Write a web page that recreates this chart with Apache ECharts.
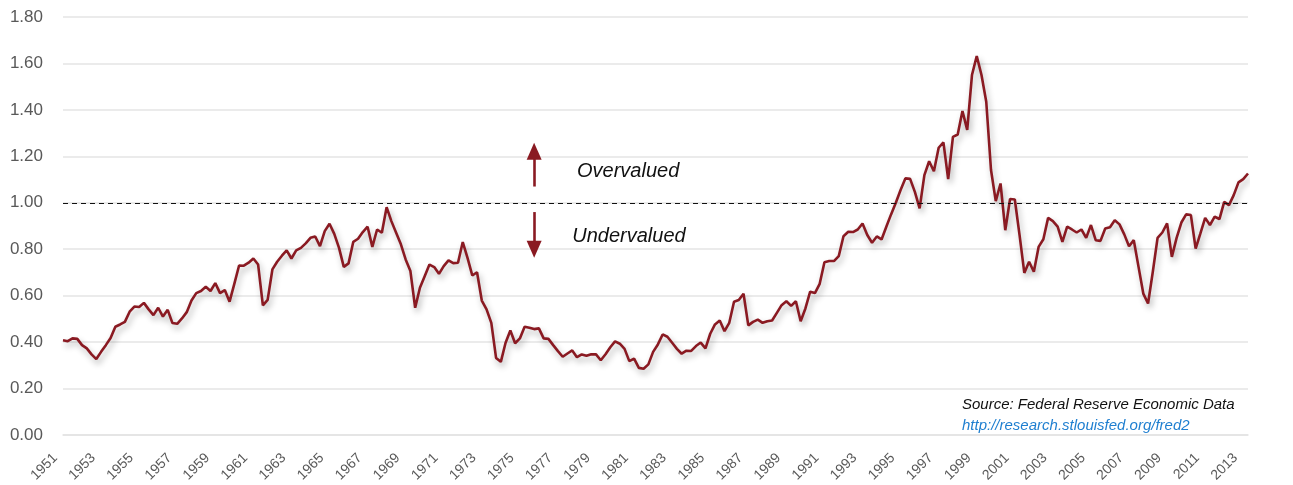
<!DOCTYPE html>
<html>
<head>
<meta charset="utf-8">
<script src="https://cdn.jsdelivr.net/npm/echarts@6/dist/echarts.min.js"></script>
<style>
    html, body { margin: 0; padding: 0; background: #fff; }
    #chart { width: 1293px; height: 485px; }
</style>
</head>
<body>
<div id="chart"></div>
<script>
// quarterly ratio, 1951Q1 onwards
const ratio1951to1973 = [
    0.408, 0.404, 0.416, 0.414, 0.387, 0.373, 0.347, 0.327, 0.358, 0.387,
    0.418, 0.466, 0.476, 0.487, 0.531, 0.553, 0.551, 0.569, 0.541, 0.516,
    0.548, 0.510, 0.539, 0.482, 0.479, 0.502, 0.529, 0.579, 0.611, 0.620,
    0.638, 0.620, 0.654, 0.611, 0.624, 0.574, 0.651, 0.730, 0.729, 0.742,
    0.760, 0.734, 0.558, 0.582, 0.713, 0.746, 0.772, 0.795, 0.760, 0.795,
    0.806, 0.825, 0.849, 0.855, 0.813, 0.878, 0.910, 0.866, 0.806, 0.724,
    0.739, 0.832, 0.845, 0.874, 0.897, 0.810, 0.885, 0.871, 0.981, 0.921,
    0.871, 0.821, 0.756, 0.706, 0.548, 0.634, 0.684, 0.734, 0.723, 0.694,
    0.727, 0.752, 0.740, 0.742, 0.831, 0.763, 0.687, 0.701, 0.579, 0.541,
];
const ratio1973to1994 = [
    0.483, 0.332, 0.315, 0.397, 0.450, 0.395, 0.416, 0.466, 0.462, 0.456,
    0.459, 0.416, 0.414, 0.387, 0.361, 0.337, 0.351, 0.364, 0.335, 0.347,
    0.341, 0.348, 0.347, 0.322, 0.348, 0.378, 0.403, 0.393, 0.371, 0.318,
    0.329, 0.289, 0.285, 0.304, 0.358, 0.390, 0.433, 0.423, 0.397, 0.371,
    0.350, 0.363, 0.362, 0.383, 0.398, 0.373, 0.436, 0.476, 0.493, 0.447,
    0.483, 0.574, 0.581, 0.608, 0.472, 0.487, 0.497, 0.483, 0.490, 0.493,
    0.526, 0.559, 0.576, 0.556, 0.576, 0.490, 0.545, 0.617, 0.611, 0.651,
    0.744, 0.749, 0.749, 0.770, 0.856, 0.875, 0.874, 0.885, 0.911, 0.861,
    0.828, 0.855, 0.842, 0.897, 0.950, 1.000,
];
const ratio1995to2013 = [
    1.055, 1.105, 1.103, 1.047, 0.976, 1.119, 1.179, 1.136, 1.237, 1.260,
    1.102, 1.284, 1.294, 1.395, 1.314, 1.550, 1.632, 1.550, 1.435, 1.141,
    1.007, 1.083, 0.882, 1.016, 1.014, 0.861, 0.698, 0.746, 0.703, 0.810,
    0.843, 0.935, 0.921, 0.897, 0.832, 0.897, 0.885, 0.872, 0.885, 0.849,
    0.904, 0.839, 0.836, 0.889, 0.895, 0.925, 0.907, 0.864, 0.813, 0.839,
    0.724, 0.609, 0.566, 0.703, 0.849, 0.872, 0.911, 0.767, 0.849, 0.915,
    0.950, 0.947, 0.803, 0.868, 0.935, 0.904, 0.940, 0.930, 1.004, 0.990,
    1.033, 1.088, 1.102, 1.126,
];

const START_YEAR = 1951;
const FAIR_VALUE = 1.0;
const Y_TICKS    = [0, 0.2, 0.4, 0.6, 0.8, 1.0, 1.2, 1.4, 1.6, 1.8];

// arrow + label annotations, in data coordinates
const ARROW_QUARTER = '1975Q4';
const ARROW_UP      = [1.07, 1.20];
const ARROW_DOWN    = [0.96, 0.82];
const ARROW_HEADS   = [1.222, 0.800];
const NOTE_OVER     = ['1978Q1', 1.137, 'Overvalued'];
const NOTE_UNDER    = ['1977Q4', 0.857, 'Undervalued'];

const values   = [...ratio1951to1973, ...ratio1973to1994, ...ratio1995to2013];
const quarters = values.map((_, i) => `${START_YEAR + Math.floor(i / 4)}Q${(i % 4) + 1}`);

const RED   = '#8a1a22';
const GRID  = '#e4e4e4';
const TICKS = '#595959';
const SANS  = '"Liberation Sans", Arial, sans-serif';

const chart = echarts.init(document.getElementById('chart'), null, { renderer: 'canvas' });

chart.setOption({
    animation: false,
    backgroundColor: '#fff',
    // v6 shrinks the grid to fit rotated labels by default; keep the exact box
    grid: { left: 63, right: 45, top: 17, bottom: 50, outerBoundsMode: 'none' },
    xAxis: {
        type: 'category',
        data: quarters,
        boundaryGap: false,
        axisLine:  { show: true, lineStyle: { color: GRID, width: 1.5 } },
        axisTick:  { show: false },
        splitLine: { show: false },
        axisLabel: {
            interval: 7,
            rotate: 45,
            margin: 13,
            padding: [0, 11, 0, 0],
            color: TICKS,
            fontFamily: SANS,
            fontSize: 14,
            formatter: (v) => v.slice(0, 4),
        },
    },
    yAxis: {
        type: 'value',
        min: Y_TICKS[0],
        max: Y_TICKS[Y_TICKS.length - 1],
        interval: Y_TICKS[1] - Y_TICKS[0],
        axisLine: { show: false },
        axisTick: { show: false },
        splitLine: { lineStyle: { color: GRID, width: 1.5 } },
        axisLabel: {
            margin: 20,
            color: TICKS,
            fontFamily: SANS,
            fontSize: 17,
            formatter: (v) => v.toFixed(2),
        },
    },
    series: [
        {
            type: 'line',
            data: values,
            showSymbol: false,
            smooth: false,
            z: 3,
            lineStyle: {
                color: RED,
                width: 2.6,
                shadowColor: 'rgba(0,0,0,0.3)',
                shadowBlur: 6,
                shadowOffsetX: 2,
                shadowOffsetY: 4,
            },
            markLine: {
                silent: true,
                symbol: 'none',
                label: { show: false },
                data: [
                    [{ coord: [quarters[0], FAIR_VALUE], lineStyle: { color: '#111', width: 1.2, type: [5, 4] } },
                     { coord: [quarters[quarters.length - 1], FAIR_VALUE] }],
                    [{ coord: [ARROW_QUARTER, ARROW_UP[0]], lineStyle: { color: RED, width: 2.6, type: 'solid' } },
                     { coord: [ARROW_QUARTER, ARROW_UP[1]] }],
                    [{ coord: [ARROW_QUARTER, ARROW_DOWN[0]], lineStyle: { color: RED, width: 2.6, type: 'solid' } },
                     { coord: [ARROW_QUARTER, ARROW_DOWN[1]] }],
                ],
            },
            markPoint: {
                silent: true,
                data: [
                    { coord: [ARROW_QUARTER, ARROW_HEADS[0]], symbol: 'triangle', symbolSize: [15, 17],
                      itemStyle: { color: RED }, label: { show: false } },
                    { coord: [ARROW_QUARTER, ARROW_HEADS[1]], symbol: 'triangle', symbolSize: [15, 17], symbolRotate: 180,
                      itemStyle: { color: RED }, label: { show: false } },
                    ...[NOTE_OVER, NOTE_UNDER].map(([q, v, text]) => ({
                        coord: [q, v],
                        symbol: 'circle',
                        symbolSize: 0,
                        label: {
                            show: true,
                            position: 'right',
                            distance: 0,
                            formatter: text,
                            color: '#111',
                            fontFamily: SANS,
                            fontStyle: 'italic',
                            fontSize: 20,
                        },
                    })),
                ],
            },
        },
    ],
    graphic: [
        {
            type: 'text',
            left: 962,
            top: 397,
            style: {
                text: 'Source: Federal Reserve Economic Data',
                fill: '#111',
                font: 'italic 15px "Liberation Sans", Arial, sans-serif',
            },
        },
        {
            type: 'text',
            left: 962,
            top: 418,
            style: {
                text: 'http://research.stlouisfed.org/fred2',
                fill: '#1f7fd0',
                font: 'italic 15px "Liberation Sans", Arial, sans-serif',
            },
        },
    ],
});
</script>
</body>
</html>
